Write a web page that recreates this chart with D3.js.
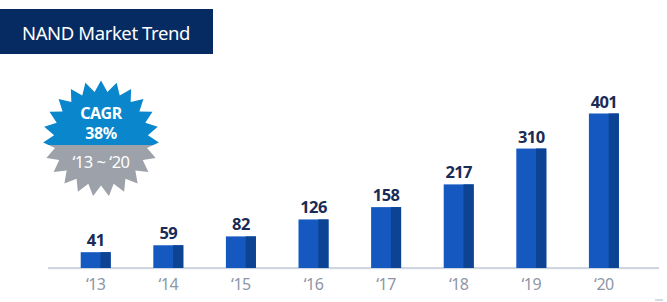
<!DOCTYPE html>
<html>
<head>
  <meta charset="utf-8" />
  <script src="https://cdn.jsdelivr.net/npm/d3@7/dist/d3.min.js"></script>
  <style>
    body { margin: 0; background: #fff; }
    svg { display: block; font-family: "Noto Sans", "Open Sans", sans-serif; }
  </style>
</head>
<body>
  <svg id="chart" width="667" height="302"></svg>
  <script>
  // data
  var years = ['\u201813', '\u201814', '\u201815', '\u201816', '\u201817', '\u201818', '\u201819', '\u201820']
  var values = [41, 59, 82, 126, 158, 217, 310, 401]
  var title = 'NAND Market Trend'
  var badgeLines = ['CAGR', '38%']
  var badgePeriod = '\u201813 ~ \u201820'

  var svg = d3.select('#chart')

  var x = d3.scaleBand()
            .domain(years)
            .range([59.4, 640.2])
            .paddingInner(0.587)
            .paddingOuter(0.2935)
  var y = d3.scaleLinear().domain([0, 401]).range([268, 113.5])

  // title box
  svg.append('rect').attr('x', 0).attr('y', 9).attr('width', 213).attr('height', 45).attr('fill', '#062a62')
  svg.append('text').attr('x', 106).attr('y', 39.5).attr('text-anchor', 'middle')
     .attr('fill', '#fff').attr('font-size', 18.5).attr('letter-spacing', -0.4).text(title)

  // baseline
  svg.append('rect').attr('x', 48).attr('y', 267).attr('width', 611).attr('height', 2.2).attr('fill', '#cfd5e1')
  svg.append('rect').attr('x', 655).attr('y', 299).attr('width', 8).attr('height', 2).attr('fill', '#d5dae4')

  // bars
  var bar = svg.append('g').selectAll('g').data(values).enter().append('g')
  bar.append('rect')
     .attr('x', (d, i) => x(years[i]))
     .attr('y', d => y(d))
     .attr('width', x.bandwidth())
     .attr('height', d => y(0) - y(d))
     .attr('fill', '#1558c0')
  bar.append('rect')
     .attr('x', (d, i) => x(years[i]) + x.bandwidth() * 0.66)
     .attr('y', d => y(d))
     .attr('width', x.bandwidth() * 0.34)
     .attr('height', d => y(0) - y(d))
     .attr('fill', '#0c4393')
  bar.append('text')
     .attr('x', (d, i) => x(years[i]) + x.bandwidth() / 2)
     .attr('y', d => y(d) - 6)
     .attr('text-anchor', 'middle')
     .attr('fill', '#1a2b55')
     .attr('font-size', 16.5)
     .attr('font-weight', 'bold')
     .attr('letter-spacing', -0.6)
     .text(d => d)

  // x labels
  svg.append('g').selectAll('text').data(years).enter().append('text')
     .attr('x', d => x(d) + x.bandwidth() / 2)
     .attr('y', 290)
     .attr('text-anchor', 'middle')
     .attr('fill', '#8e96a6')
     .attr('font-size', 16)
     .attr('letter-spacing', -0.5)
     .text(d => d)

  // CAGR badge
  var cx = 101, cy = 138.5, rOut = 58, rIn = 47, spikes = 23
  var pts = d3.range(spikes * 2).map(function(i) {
    var a = Math.PI * i / spikes - Math.PI / 2
    var r = i % 2 ? rIn : rOut
    return [cx + r * Math.cos(a), cy + r * Math.sin(a)]
  })
  var defs = svg.append('defs')
  defs.append('clipPath').attr('id', 'topHalf')
      .append('rect').attr('x', 0).attr('y', 0).attr('width', 220).attr('height', 145)
  defs.append('clipPath').attr('id', 'botHalf')
      .append('rect').attr('x', 0).attr('y', 145).attr('width', 220).attr('height', 100)
  var star = 'M' + pts.join('L') + 'Z'
  svg.append('path').attr('d', star).attr('fill', '#0a86cc').attr('clip-path', 'url(#topHalf)')
  svg.append('path').attr('d', star).attr('fill', '#9ca1aa').attr('clip-path', 'url(#botHalf)')

  svg.append('text').attr('x', cx).attr('y', 118.5).attr('text-anchor', 'middle')
     .attr('fill', '#fff').attr('font-size', 16).attr('font-weight', 'bold').attr('letter-spacing', -0.4).text(badgeLines[0])
  svg.append('text').attr('x', cx).attr('y', 138.5).attr('text-anchor', 'middle')
     .attr('fill', '#fff').attr('font-size', 16).attr('font-weight', 'bold').attr('letter-spacing', -0.4).text(badgeLines[1])
  svg.append('text').attr('x', cx).attr('y', 167.5).attr('text-anchor', 'middle')
     .attr('fill', '#fff').attr('font-size', 16.5).attr('letter-spacing', -0.5).text(badgePeriod)
  </script>
</body>
</html>
